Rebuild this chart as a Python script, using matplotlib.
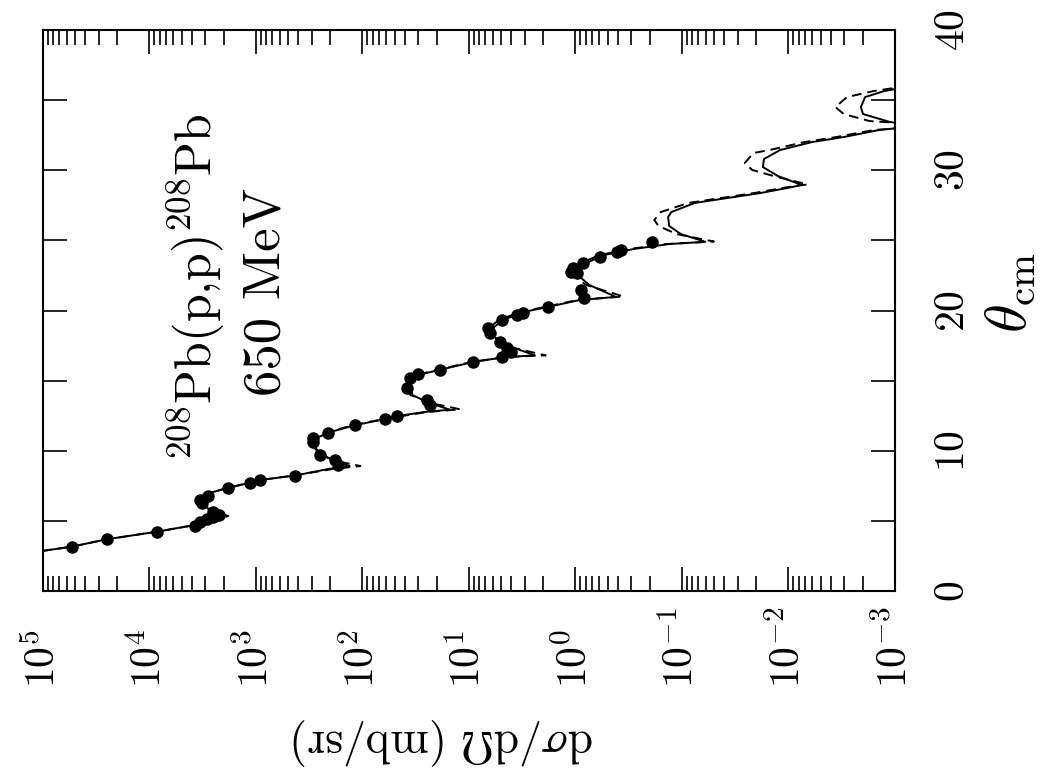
import numpy as np
import matplotlib
matplotlib.use('Agg')
import matplotlib.pyplot as plt
from matplotlib.ticker import LogLocator, MultipleLocator, FuncFormatter, NullFormatter

plt.rcParams['mathtext.fontset'] = 'cm'
plt.rcParams['font.family'] = ['DejaVu Serif']

# theory curve 1 (solid): theta_cm (deg), log10 dsigma/dOmega (mb/sr)
theta_solid = [2.70, 3.16, 3.69, 4.23, 4.71, 5.06, 5.35, 5.70, 6.27, 6.70, 6.99, 7.34, 7.91, 8.24,
               8.70, 8.91, 9.30, 9.70, 10.27, 10.77, 11.30, 11.84, 12.26, 12.48, 12.76, 12.93,
               13.40, 13.97, 14.69, 15.40, 15.76, 16.33, 16.68, 16.80, 17.40, 18.04, 18.61, 19.32,
               19.89, 20.25, 20.75, 20.97, 21.82, 22.60, 23.32, 23.96, 24.39, 24.74, 24.90, 25.45,
               26.03, 26.67, 27.02, 27.67, 28.38, 28.81, 28.97, 29.59, 30.23, 30.80, 31.44, 32.01,
               32.37, 32.87, 33.15, 33.45, 34.01, 34.51, 35.22, 35.65, 36.20]
log_solid = [5.15, 4.73, 4.40, 3.93, 3.57, 3.38, 3.28, 3.41, 3.53, 3.53, 3.44, 3.26, 2.96, 2.63,
             2.32, 2.12, 2.26, 2.38, 2.45, 2.47, 2.32, 2.06, 1.79, 1.67, 1.42, 1.18,
             1.37, 1.53, 1.56, 1.48, 1.28, 0.96, 0.66, 0.38, 0.60, 0.75, 0.80, 0.68,
             0.49, 0.26, -0.04, -0.38, -0.13, -0.01, -0.08, -0.27, -0.55, -0.88, -1.22, -0.99,
             -0.88, -0.87, -0.90, -1.12, -1.74, -2.04, -2.12, -1.90, -1.76, -1.77, -1.92, -2.22,
             -2.52, -2.85, -3.20, -2.95, -2.70, -2.68, -2.72, -2.90, -3.30]

# theory curve 2 (dashed)
theta_dash = [2.70, 3.16, 3.69, 4.23, 4.71, 5.06, 5.35, 5.70, 6.27, 6.70, 6.99, 7.34, 7.91, 8.24,
              8.70, 8.91, 9.30, 9.70, 10.27, 10.77, 11.30, 11.84, 12.26, 12.76, 12.95, 13.40,
              13.97, 14.69, 15.40, 15.76, 16.33, 16.68, 16.80, 17.40, 18.04, 18.61, 19.32, 19.89,
              20.25, 20.75, 21.00, 21.82, 22.60, 23.32, 23.96, 24.39, 24.74, 24.92, 25.45, 26.03,
              26.45, 27.02, 27.67, 28.38, 28.81, 28.99, 29.59, 30.02, 30.52, 31.23, 31.44, 32.01,
              32.37, 32.87, 33.20, 33.51, 34.01, 34.51, 35.22, 35.65, 36.10]
log_dash = [5.15, 4.73, 4.40, 3.93, 3.57, 3.37, 3.26, 3.41, 3.54, 3.54, 3.45, 3.27, 2.97, 2.64,
            2.28, 2.02, 2.26, 2.39, 2.46, 2.48, 2.34, 2.08, 1.80, 1.40, 1.08, 1.36,
            1.55, 1.58, 1.50, 1.30, 0.98, 0.66, 0.28, 0.62, 0.79, 0.84, 0.72, 0.52,
            0.29, -0.02, -0.45, -0.10, 0.04, -0.03, -0.23, -0.51, -0.85, -1.30, -0.95, -0.78,
            -0.74, -0.80, -1.06, -1.68, -2.00, -2.18, -1.86, -1.66, -1.59, -1.67, -1.82, -2.15,
            -2.45, -2.80, -3.40, -2.76, -2.52, -2.44, -2.55, -2.80, -3.20]

# measured points
theta_data = [3.16, 3.69, 4.23, 4.63, 4.92, 5.13, 5.28, 5.45, 5.60, 6.27, 6.49, 6.77, 7.34, 7.70,
              7.91, 8.22, 8.98, 9.34, 9.70, 10.62, 10.91, 11.29, 11.84, 12.26, 12.48, 13.26, 13.62,
              14.47, 15.19, 15.47, 15.76, 16.33, 16.68, 17.04, 17.30, 17.75, 18.40, 18.75, 19.32,
              19.68, 19.82, 20.25, 20.87, 21.46, 22.65, 22.77, 23.00, 23.36, 23.84, 24.19, 24.31,
              24.91]
log_data = [4.73, 4.40, 3.93, 3.57, 3.53, 3.46, 3.40, 3.35, 3.40, 3.51, 3.53, 3.45, 3.26, 3.06,
            2.96, 2.63, 2.23, 2.26, 2.40, 2.46, 2.46, 2.32, 2.07, 1.79, 1.68, 1.37, 1.39,
            1.58, 1.55, 1.48, 1.27, 0.96, 0.69, 0.61, 0.64, 0.71, 0.80, 0.82, 0.69,
            0.55, 0.49, 0.26, -0.08, -0.05, -0.01, 0.04, 0.02, -0.07, -0.23, -0.39, -0.43,
            -0.72]

fig = plt.figure(figsize=(10.54, 7.80), dpi=100)
ax = fig.add_axes([0.0408, 0.2423, 0.8083, 0.7192])

ax.plot(np.power(10.0, log_dash), theta_dash, color='k', lw=1.4, ls='--', dashes=(5, 3))
ax.plot(np.power(10.0, log_solid), theta_solid, color='k', lw=1.4)
ax.plot(np.power(10.0, log_data), theta_data, 'o', color='k', ms=8)

ax.set_xscale('log')
ax.set_xlim(1e5, 1e-3)
ax.set_ylim(0, 40)

ax.xaxis.set_major_locator(LogLocator(base=10, numticks=20))
ax.xaxis.set_minor_locator(LogLocator(base=10, subs=np.arange(2, 10), numticks=20))
ax.xaxis.set_minor_formatter(NullFormatter())
ax.xaxis.set_major_formatter(FuncFormatter(lambda v, p: r'$10^{%d}$' % round(np.log10(v))))
ax.yaxis.set_major_locator(MultipleLocator(10))
ax.yaxis.set_minor_locator(MultipleLocator(5))
ax.yaxis.set_major_formatter(FuncFormatter(lambda v, p: r'$%d$' % round(v)))

ax.tick_params(axis='x', which='both', direction='in', top=True, bottom=True,
               labelrotation=90, labelsize=30, pad=70, width=1.2)
ax.tick_params(axis='x', which='major', length=17)
ax.tick_params(axis='x', which='minor', length=11)
ax.tick_params(axis='y', which='both', direction='in', left=True, right=True,
               labelleft=False, labelright=True, labelrotation=90, labelsize=30,
               pad=26, length=17, width=1.2)
# x labels: start of the rotated text sits on a common line below the axis
for t in ax.xaxis.get_major_ticks():
    t.label1.set_rotation_mode('anchor')
    t.label1.set_ha('left')
    t.label1.set_va('center')
for t in ax.yaxis.get_major_ticks():
    t.label2.set_va('center')

for s in ax.spines.values():
    s.set_linewidth(1.5)

ax.text(0.180, 0.542, '$^{208}$Pb(p,p)$^{208}$Pb', transform=ax.transAxes, family='cmr10',
        rotation=90, ha='center', va='center', fontsize=36)
ax.text(0.262, 0.533, '650 MeV', transform=ax.transAxes, family='cmr10',
        rotation=90, ha='center', va='center', fontsize=38)

fig.text(0.958, 0.625, r'$\theta_{\rm cm}$', rotation=90, ha='center', va='center', fontsize=42)
fig.text(0.420, 0.049, r'$\mathrm{d}\sigma/\mathrm{d}\Omega\ \mathrm{(mb/sr)}$', rotation=180,
         ha='center', va='center', fontsize=33)

fig.savefig('out.png', dpi=100)
